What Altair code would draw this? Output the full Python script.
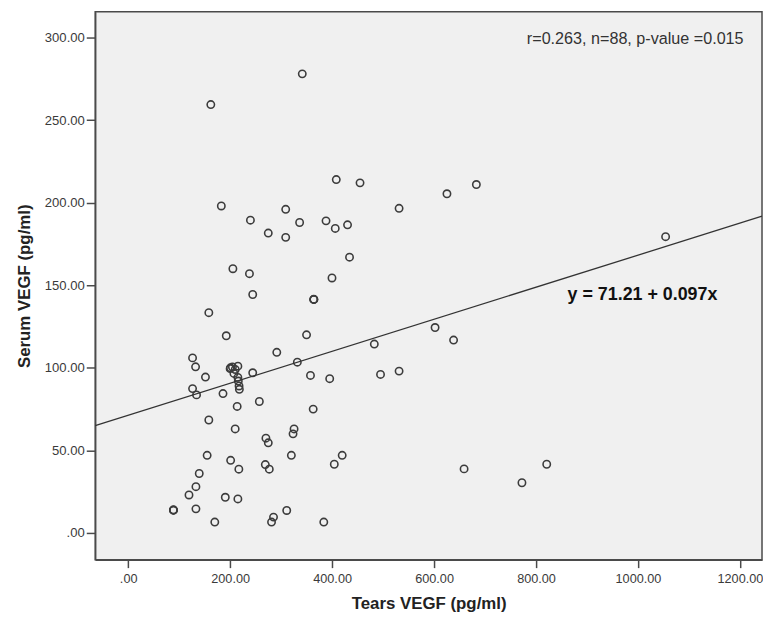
import altair as alt
import pandas as pd

# ---- data ----
tears_vegf = [
    341.5, 162.1, 408.2, 454.8, 182.7, 309.0, 239.8, 336.3, 388.1, 406.2,
    430.3, 274.8, 309.0, 434.2, 205.4, 237.9, 399.8, 244.3, 364.2, 364.2,
    158.2, 531.4, 625.3, 683.0, 1054.2,
    192.4, 349.9, 126.3, 132.2, 151.6, 244.3, 291.5, 331.8, 357.6, 395.3,
    482.8, 495.0, 531.4, 602.0, 638.3, 658.9, 772.4, 821.0,
    126.3, 134.1, 186.0, 213.8, 257.3, 362.9, 158.2, 209.9, 270.2, 274.8,
    325.4, 323.4, 154.9, 201.0, 217.1, 269.0, 276.8, 320.1, 404.3, 419.8,
    139.4, 132.9, 119.3, 190.5, 215.2, 88.8, 88.8, 132.9, 169.9, 285.1,
    281.2, 311.0, 383.7,
    200.6, 204.5, 215.2, 207.4, 215.2, 217.5, 218.1,
    210.0, 216.0, 200.0, 364.0, 88.8,
]
serum_vegf = [
    278.0, 259.4, 214.0, 212.0, 198.0, 196.0, 189.4, 188.0, 189.0, 184.4,
    186.6, 181.6, 179.0, 167.0, 160.0, 157.0, 154.4, 144.4, 141.4, 141.4,
    133.4, 196.6, 205.4, 211.0, 179.4,
    119.4, 120.0, 106.0, 100.6, 94.4, 97.0, 109.4, 103.4, 95.4, 93.4,
    114.4, 96.0, 98.0, 124.4, 116.8, 38.8, 30.4, 41.6,
    87.4, 83.6, 84.4, 76.6, 79.6, 75.0, 68.4, 63.0, 57.4, 54.6,
    63.0, 60.0, 47.0, 44.0, 38.6, 41.4, 38.6, 47.0, 41.6, 47.0,
    36.0, 28.0, 23.0, 21.6, 20.6, 13.8, 13.8, 14.6, 6.6, 9.6,
    6.6, 13.6, 6.6,
    100.0, 100.5, 101.0, 96.6, 94.2, 89.0, 87.0,
    99.0, 92.0, 99.5, 141.5, 14.0,
]
x_ticks = [0, 200, 400, 600, 800, 1000, 1200]
y_ticks = [0, 50, 100, 150, 200, 250, 300]
intercept = 71.21
slope = 0.097
x_domain = [-64.7, 1243.3]
y_domain = [-16.2, 315.6]
stats_text = "r=0.263, n=88, p-value =0.015"
eq_text = "y = 71.21 + 0.097x"
x_title = "Tears VEGF (pg/ml)"
y_title = "Serum VEGF (pg/ml)"

FONT = "Liberation Sans"

df = pd.DataFrame({"tears": tears_vegf, "serum": serum_vegf})
line_df = pd.DataFrame({"tears": x_domain})
line_df["serum"] = intercept + slope * line_df["tears"]

stats_df = pd.DataFrame({"tears": [782.0], "serum": [299.0], "label": [stats_text]})
eq_df = pd.DataFrame({"tears": [862.0], "serum": [144.0], "label": [eq_text]})

label_expr = "datum.value == 0 ? '.00' : format(datum.value, '.2f')"

xs = alt.Scale(domain=x_domain, nice=False, zero=False)
ys = alt.Scale(domain=y_domain, nice=False, zero=False)

x_axis = alt.Axis(
    values=x_ticks, labelExpr=label_expr, title=x_title, grid=False,
    domainColor="#4a4a4a", domainWidth=1.5, tickColor="#4a4a4a", tickSize=8, tickWidth=1.5,
    labelFont=FONT, labelFontSize=12.8, labelColor="#3a3a3a", labelPadding=5,
    titleFont=FONT, titleFontSize=17, titleFontWeight="bold", titleColor="#222222",
    titlePadding=10,
)
y_axis = alt.Axis(
    values=y_ticks, labelExpr=label_expr, title=y_title, grid=False,
    domainColor="#4a4a4a", domainWidth=1.5, tickColor="#4a4a4a", tickSize=9, tickWidth=1.5,
    labelFont=FONT, labelFontSize=13.2, labelColor="#3a3a3a", labelPadding=2,
    titleFont=FONT, titleFontSize=17, titleFontWeight="bold", titleColor="#222222",
    titlePadding=11,
)

X = alt.X("tears:Q", scale=xs, axis=x_axis)
Y = alt.Y("serum:Q", scale=ys, axis=y_axis)

points = alt.Chart(df).mark_point(
    shape="circle", filled=False, size=55, strokeWidth=1.6, color="#3c3c3c", opacity=1
).encode(x=X, y=Y)

fit = alt.Chart(line_df).mark_line(color="#333333", strokeWidth=1.3, clip=True).encode(x=X, y=Y)

stats = alt.Chart(stats_df).mark_text(
    align="left", baseline="middle", font=FONT, fontSize=16.3, color="#333333"
).encode(x=X, y=Y, text="label:N")

eq = alt.Chart(eq_df).mark_text(
    align="left", baseline="middle", font=FONT, fontSize=18, fontWeight="bold", color="#111111"
).encode(x=X, y=Y, text="label:N")

chart = (
    alt.layer(points, fit, stats, eq)
    .properties(
        width=673, height=553,
        autosize=alt.AutoSizeParams(type="none"),
        padding={"left": 88, "top": 1, "right": 1, "bottom": 54},
        background="white",
    )
    .configure_view(stroke="#4a4a4a", strokeWidth=1.5, fill="#f0f0f0")
)

chart.save("out.html", embed_options={"renderer": "svg", "actions": False})
